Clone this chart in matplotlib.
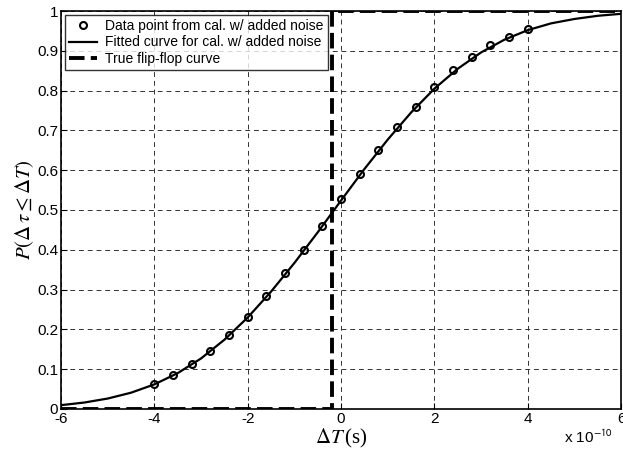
import matplotlib
matplotlib.use("Agg")
import matplotlib.pyplot as plt

plt.rcParams["font.family"] = ["Liberation Sans", "DejaVu Sans"]
plt.rcParams["mathtext.fontset"] = "stix"
plt.rcParams["axes.unicode_minus"] = False

# data points (x in units of 1e-10 s)
pts_x = [-4.0, -3.6, -3.2, -2.8, -2.4, -2.0, -1.6, -1.2, -0.8, -0.4, 0.0,
         0.4, 0.8, 1.2, 1.6, 2.0, 2.4, 2.8, 3.2, 3.6, 4.0]
pts_y = [0.062, 0.086, 0.113, 0.146, 0.187, 0.232, 0.284, 0.342, 0.400, 0.461, 0.528,
         0.590, 0.650, 0.709, 0.760, 0.808, 0.851, 0.885, 0.915, 0.935, 0.955]

# fitted curve
fit_x = [-6.0, -5.5, -5.0, -4.5, -4.0, -3.5, -3.0, -2.5, -2.0, -1.5, -1.0, -0.5, 0.0,
         0.5, 1.0, 1.5, 2.0, 2.5, 3.0, 3.5, 4.0, 4.5, 5.0, 5.5, 6.0]
fit_y = [0.0096, 0.0162, 0.0262, 0.0409, 0.0618, 0.0901, 0.127, 0.174, 0.230, 0.295,
         0.367, 0.444, 0.524, 0.603, 0.677, 0.745, 0.805, 0.855, 0.896, 0.928, 0.952,
         0.969, 0.980, 0.988, 0.993]

# true flip-flop step
step_x = [-6.0, -0.2, -0.2, 6.0]
step_y = [0.0, 0.0, 1.0, 1.0]

fig = plt.figure(figsize=(6.23, 4.59), dpi=100)
ax = fig.add_axes([0.098, 0.109, 0.899, 0.867])

ax.plot(pts_x, pts_y, "o", color="black", markerfacecolor="none",
        markersize=5, markeredgewidth=1.5, label="Data point from cal. w/ added noise")
ax.plot(fit_x, fit_y, "-", color="black", linewidth=1.6,
        label="Fitted curve for cal. w/ added noise")
ax.plot(step_x, step_y, "--", color="black", linewidth=2.8, dashes=(4, 1.6),
        label="True flip-flop curve")

ax.set_xlim(-6, 6)
ax.set_ylim(0, 1)
ax.set_xticks([-6, -4, -2, 0, 2, 4, 6])
ax.set_yticks([0, 0.1, 0.2, 0.3, 0.4, 0.5, 0.6, 0.7, 0.8, 0.9, 1])
ax.set_yticklabels(["0", "0.1", "0.2", "0.3", "0.4", "0.5", "0.6", "0.7", "0.8", "0.9", "1"])
ax.tick_params(direction="in", labelsize=11, length=4, pad=2)
ax.grid(True, linestyle=(0, (5, 4)), color="#333333", linewidth=0.7)
for s in ax.spines.values():
    s.set_linewidth(1.2)

ax.set_xlabel(r"$\Delta T\,$(s)", fontsize=15, labelpad=1, family="Liberation Serif")
ax.set_ylabel(r"$P(\Delta\,\tau \leq \Delta T)$", fontsize=15, labelpad=1)
fig.text(0.905, 0.035, r"x 10$^{\mathsf{-10}}$", fontsize=11)

leg = ax.legend(loc="upper left", fontsize=10, frameon=True, fancybox=False,
                borderpad=0.3, labelspacing=0.15, handlelength=2.0,
                handletextpad=0.6, borderaxespad=0.3)
leg.get_frame().set_edgecolor("black")
leg.get_frame().set_linewidth(1.0)

fig.savefig("out.png", dpi=100)
